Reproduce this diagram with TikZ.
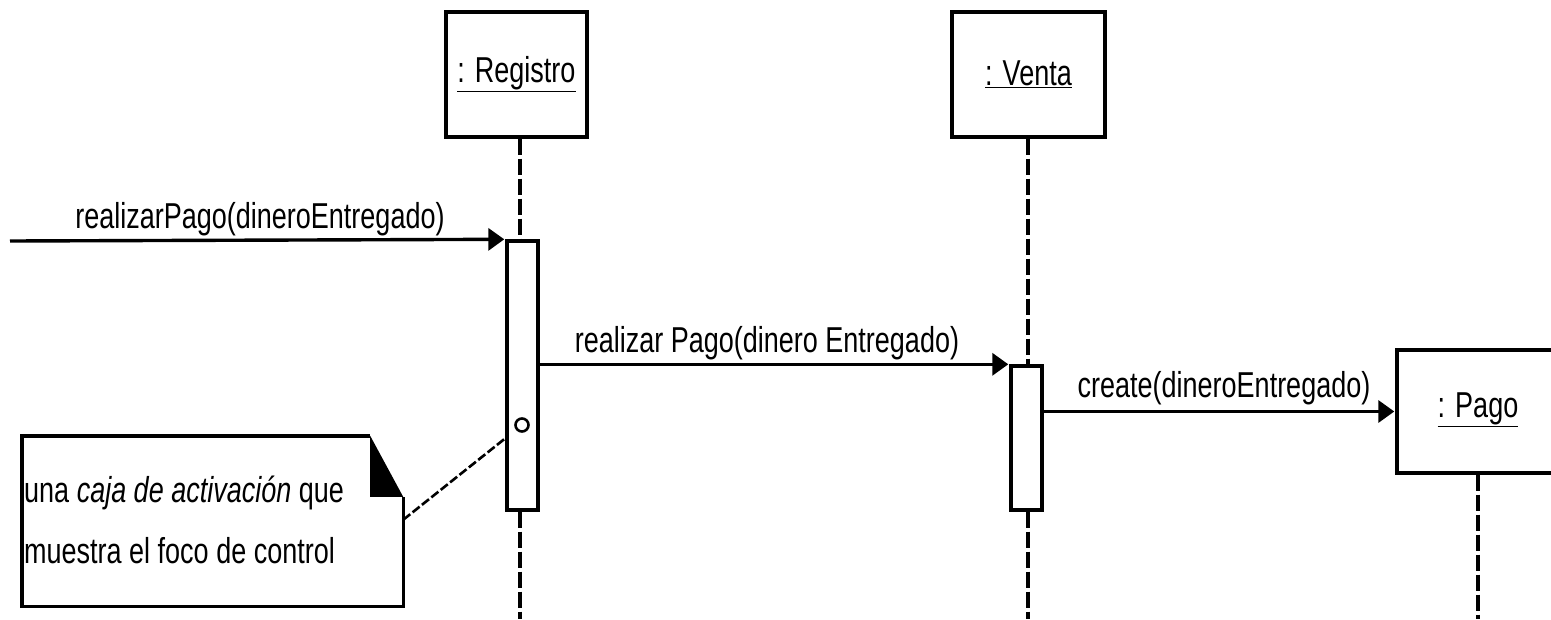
\documentclass[tikz,border=0pt]{standalone}
\usepackage{fontspec}
\setmainfont{Liberation Sans}[FakeStretch=0.75]
\usetikzlibrary{arrows.meta,calc}
\begin{document}
\begin{tikzpicture}[x=1pt,y=-1pt,
  lbl/.style={font=\fontsize{36}{38}\selectfont, inner sep=0pt},
  objbox/.style={draw, line width=3.4pt, fill=white, minimum height=125pt, inner sep=0pt},
  actbox/.style={draw, line width=3.4pt, fill=white, minimum width=31pt, inner sep=0pt},
  lifeline/.style={line width=3.4pt, dash pattern=on 16pt off 4pt},
  msg/.style={line width=3.4pt, -{Triangle[length=16pt,width=22pt]}, shorten >=1pt},
  anchorline/.style={line width=2.6pt, dash pattern=on 9pt off 3pt}]
\useasboundingbox (0,0) rectangle (1551,619);
\clip (0,0) rectangle (1551,619);
\fill[white] (0,0) rectangle (1551,619);

% participants
\node[objbox, minimum width=141pt] (reg) at (516.5,74.5) {};
\node[lbl] (regt) at (516.5,74) {\underline{: Registro}};
\node[objbox, minimum width=153pt] (ven) at (1028.5,74.5) {};
\node[lbl] (vent) at (1028.5,74) {\underline{: Venta}};
\node[objbox, minimum width=164pt, minimum height=123pt] (pag) at (1479,411.5) {};
\node[lbl] (pagt) at (1478,410) {\underline{: Pago}};

% activation boxes
\node[actbox, minimum height=269pt] (actR) at (522.5,375.5) {};
\node[actbox, minimum height=144pt] (actV) at (1026.5,438) {};

% lifelines
\coordinate (endR) at (520,619);
\coordinate (endV) at (1028,619);
\coordinate (endP) at (1478,619);
\draw[lifeline] (reg.south -| endR) -- (actR.north -| endR);
\draw[lifeline] (actR.south -| endR) -- (endR);
\draw[lifeline] (ven.south -| endV) -- (actV.north -| endV);
\draw[lifeline] (actV.south -| endV) -- (endV);
\draw[lifeline] (pag.south -| endP) -- (endP);

% messages
\coordinate (src) at (10,241);
\draw[msg] (src) -- (actR.north west);
\node[lbl, anchor=south] (m1) at (260,236) {realizarPago(dineroEntregado)};
\draw[msg] (actR.east |- actV.north) -- (actV.north west);
\node[lbl, anchor=south] (m2) at (767,360) {realizar Pago(dinero Entregado)};
\draw[msg] (actV.east |- pag.west) -- (pag.west);
\node[lbl, anchor=south] (m3) at (1224,405) {create(dineroEntregado)};

% note with folded corner
\node[minimum width=381pt, minimum height=170pt, inner sep=0pt] (note) at (212.5,521) {};
\draw[line width=3.4pt] ($(note.north east)+(-33,0)$) -- (note.north west) -- (note.south west)
  -- (note.south east) -- ($(note.north east)+(0,61)$);
\fill ($(note.north east)+(-33,0)$) -- ($(note.north east)+(0,61)$) -- ($(note.north east)+(-33,61)$) -- cycle;
\node[lbl, anchor=west] (nt1) at (24,493) {una \textit{caja de activación} que};
\node[lbl, anchor=west] (nt2) at (24,551) {muestra el foco de control};

% note anchor
\coordinate (noteend) at ($(note.north east)+(0,84)$);
\coordinate (actpt) at ($(actR.north west)+(0,199)$);
\draw[anchorline] (noteend) -- (actpt);
\node[draw, circle, line width=2.6pt, minimum size=13pt, inner sep=0pt, fill=white] (knob) at (522,425) {};
\end{tikzpicture}
\end{document}
